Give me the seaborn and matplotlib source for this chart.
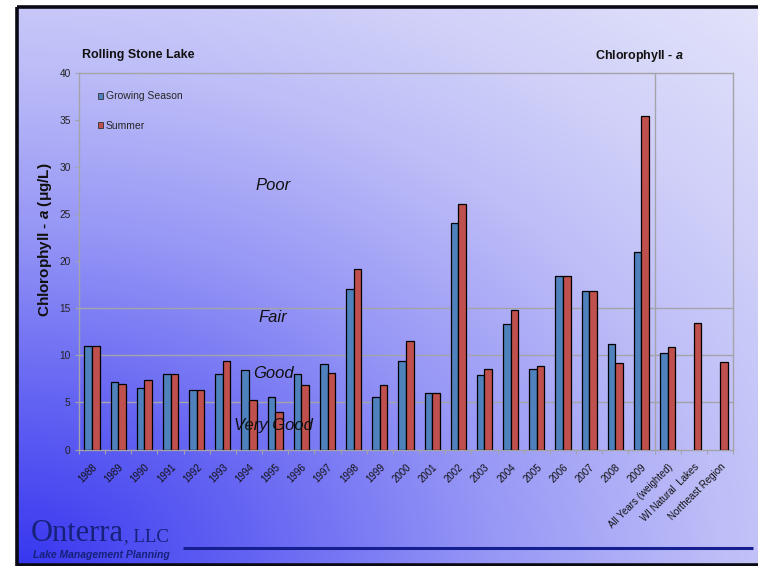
import numpy as np
import pandas as pd
import matplotlib
matplotlib.use("Agg")
import matplotlib.pyplot as plt
from matplotlib.patches import Patch, Rectangle
from matplotlib.lines import Line2D
import seaborn as sns

# ---- data ----
categories = ["1988", "1989", "1990", "1991", "1992", "1993", "1994", "1995",
              "1996", "1997", "1998", "1999", "2000", "2001", "2002", "2003",
              "2004", "2005", "2006", "2007", "2008", "2009",
              "All Years (weighted)", "WI Natural  Lakes", "Northeast Region"]
growing_season = [11.0, 7.2, 6.5, 8.0, 6.3, 8.0, 8.4, 5.6, 8.0, 9.1, 17.0, 5.6,
                  9.4, 6.0, 24.1, 7.9, 13.3, 8.5, 18.4, 16.8, 11.2, 21.0,
                  10.3, np.nan, np.nan]
summer = [11.0, 7.0, 7.4, 8.0, 6.3, 9.4, 5.3, 4.0, 6.9, 8.1, 19.2, 6.8,
          11.5, 6.0, 26.1, 8.6, 14.8, 8.9, 18.4, 16.8, 9.2, 35.4,
          10.9, 13.4, 9.3]
series_names = ["Growing Season", "Summer"]
y_ticks = [0, 5, 10, 15, 20, 25, 30, 35, 40]
class_lines = [5, 10, 15]
class_labels = ["Poor", "Fair", "Good", "Very Good"]
class_label_y = [28.0, 14.0, 8.1, 2.6]

df = pd.DataFrame({"Year": categories,
                   series_names[0]: growing_season,
                   series_names[1]: summer})
long_df = df.melt(id_vars="Year", var_name="Season", value_name="Chl").dropna()

W, H = 758, 566
BLUE = "#4F81BD"
RED = "#C0504D"
GRID = "#a4a4a8"
NAVY = "#16217a"

sns.set_theme(style="white")
plt.rcParams["font.family"] = ["Liberation Sans", "DejaVu Sans"]
plt.rcParams["mathtext.fontset"] = "custom"
plt.rcParams["mathtext.rm"] = "Liberation Sans:bold"
plt.rcParams["mathtext.bf"] = "Liberation Sans:bold"
plt.rcParams["mathtext.it"] = "Liberation Sans:bold:italic"

fig = plt.figure(figsize=(W / 100, H / 100), dpi=100)
fig.patch.set_facecolor("white")


def fx(x):
    return x / W


def fy(y):
    return 1 - y / H


# ---- slide background: diagonal blue-to-lavender gradient in a black frame ----
bg = fig.add_axes([0, 0, 1, 1], zorder=-5)
bg.set_xlim(0, W)
bg.set_ylim(H, 0)
bg.axis("off")
x0, y0, x1, y1 = 17, 7, W + 5, 565
gx = np.linspace(0, 1, 400)
gy = np.linspace(0, 1, 300)
U, V = np.meshgrid(gx, gy)
r = np.sqrt((U * 0.95) ** 2 + (1 - V) ** 2)
nodes_r = [0.0, 0.3, 0.6, 0.9, 1.1, 1.4]
nodes_c = np.array([[55, 55, 240], [100, 100, 243], [150, 150, 246],
                    [190, 190, 248], [208, 208, 249], [228, 228, 251]]) / 255.0
img = np.stack([np.interp(r, nodes_r, nodes_c[:, k]) for k in range(3)], axis=-1)
bg.imshow(img, extent=[x0, x1, y1, y0], aspect="auto", interpolation="bilinear")
bg.add_patch(Rectangle((x0, y0), x1 - x0, y1 - y0, fill=False,
                       edgecolor="#0a0a14", linewidth=2.6))

# ---- chart ----
ax = fig.add_axes([fx(79), fy(449.5), (733 - 79) / W, (449.5 - 73) / H])
ax.set_facecolor("none")
sns.barplot(data=long_df, x="Year", y="Chl", hue="Season", order=categories,
            hue_order=series_names, palette=[BLUE, RED], saturation=1,
            width=0.58, errorbar=None, edgecolor="black", linewidth=0.9,
            legend=False, ax=ax, zorder=3)

ax.set_ylim(0, 40)
ax.set_xlim(-0.5, len(categories) - 0.5)
ax.set_yticks(y_ticks)
ax.set_xlabel("")
ax.set_ylabel("")
for v in class_lines:
    ax.axhline(v, color=GRID, lw=1.0, zorder=1)
ax.axvline(len(categories) - 3.5, color=GRID, lw=1.0, zorder=1)
for side in ["left", "right", "top", "bottom"]:
    ax.spines[side].set_visible(True)
    ax.spines[side].set_color(GRID)
    ax.spines[side].set_linewidth(1.0)

ax.tick_params(axis="y", which="major", length=3, width=0.8, color=GRID,
               labelsize=7.3, pad=3, labelcolor="#222222", left=True)
ax.set_xticks(range(len(categories)))
ax.set_xticklabels(categories, rotation=45, ha="right", rotation_mode="anchor",
                   fontsize=7, color="#111111")
ax.tick_params(axis="x", which="major", length=0, pad=9)
ax.set_xticks(np.arange(-0.5, len(categories), 1), minor=True)
ax.tick_params(axis="x", which="minor", length=3, width=0.8, color=GRID,
               bottom=True)

for lab, yv in zip(class_labels, class_label_y):
    ax.text(6.92, yv, lab, fontsize=12, style="italic", color="#111111",
            ha="center", va="center", zorder=4)

handles = [Patch(facecolor=BLUE, edgecolor="#333333", linewidth=0.6),
           Patch(facecolor=RED, edgecolor="#333333", linewidth=0.6)]
ax.legend(handles, series_names, loc="upper left", bbox_to_anchor=(0.022, 0.962),
          frameon=False, fontsize=7.5, handlelength=0.5, handleheight=0.5,
          handletextpad=0.3, labelspacing=1.85, borderaxespad=0)

# ---- titles ----
fig.text(fx(82), fy(55), "Rolling Stone Lake", fontsize=9, fontweight="bold",
         ha="left", va="center", color="#111111")
fig.text(fx(684), fy(56), r"Chlorophyll - $\mathit{a}$", fontsize=9,
         fontweight="bold", ha="right", va="center", color="#111111")
fig.text(fx(45), fy(240), r"Chlorophyll - $\mathit{a}$ ($\mathrm{\mu}$g/L)",
         fontsize=11, fontweight="bold", rotation=90, ha="center",
         va="center", color="#111111")

# ---- footer ----
logo = fig.text(fx(31), fy(541), "Onterra", family="Liberation Serif",
                fontsize=22, color=NAVY, ha="left", va="baseline")
fig.canvas.draw()
bb = logo.get_window_extent()
fig.text(bb.x1 / W, fy(541), ", LLC", family="Liberation Serif", fontsize=13.5,
         color=NAVY, ha="left", va="baseline")
fig.text(fx(33), fy(558.5), "Lake Management Planning", fontsize=7.5,
         fontweight="bold", style="italic", color=NAVY, ha="left",
         va="baseline")
fig.add_artist(Line2D([fx(183), fx(753)], [fy(548), fy(548)], color="#151f8f",
                      lw=2.2, solid_capstyle="butt"))

fig.savefig("out.png", dpi=100)
